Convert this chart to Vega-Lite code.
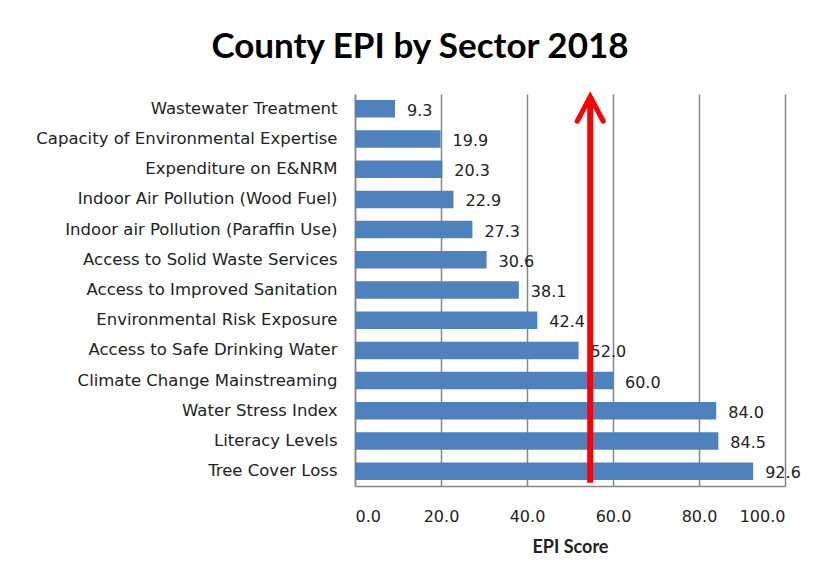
{
  "$schema": "https://vega.github.io/schema/vega-lite/v6.json",
  "autosize": "none",
  "width": 430,
  "height": 392,
  "padding": {"left": 355, "top": 94, "right": 36, "bottom": 99},
  "background": "white",
  "config": {
    "font": "DejaVu Sans",
    "view": {"stroke": null}
  },
  "title": {
    "text": "County EPI by Sector 2018",
    "fontSize": 35,
    "fontWeight": "bold",
    "font": "Lato",
    "color": "#000000",
    "anchor": "middle",
    "frame": "group",
    "dx": -150,
    "offset": 22
  },
  "layer": [
    {
      "data": {
        "values": [
          {"sector": "Wastewater Treatment", "score": 9.3},
          {"sector": "Capacity of Environmental Expertise", "score": 19.9},
          {"sector": "Expenditure on E&NRM", "score": 20.3},
          {"sector": "Indoor Air Pollution (Wood Fuel)", "score": 22.9},
          {"sector": "Indoor air Pollution (Paraffin Use)", "score": 27.3},
          {"sector": "Access to Solid Waste Services", "score": 30.6},
          {"sector": "Access to Improved Sanitation", "score": 38.1},
          {"sector": "Environmental Risk Exposure", "score": 42.4},
          {"sector": "Access to Safe Drinking Water", "score": 52.0},
          {"sector": "Climate Change Mainstreaming", "score": 60.0},
          {"sector": "Water Stress Index", "score": 84.0},
          {"sector": "Literacy Levels", "score": 84.5},
          {"sector": "Tree Cover Loss", "score": 92.6}
        ]
      },
      "encoding": {
        "y": {
          "field": "sector",
          "type": "nominal",
          "sort": null,
          "scale": {"paddingInner": 0.42, "paddingOuter": 0.2},
          "axis": {
            "title": null,
            "ticks": false,
            "labelFont": "DejaVu Sans",
            "labelFontSize": 16.5,
            "labelColor": "#222222",
            "labelPadding": 18,
            "domainColor": "#868686",
            "domainWidth": 1.5,
            "labelLimit": 400
          }
        },
        "x": {
          "field": "score",
          "type": "quantitative",
          "scale": {"domain": [0, 100], "nice": false},
          "axis": {
            "title": "EPI Score",
            "titleFont": "Lato",
            "titleFontSize": 18,
            "titleFontWeight": "bold",
            "titleColor": "#222222",
            "titlePadding": 14,
            "values": [0, 20, 40, 60, 80, 100],
            "format": ".1f",
            "labelFont": "DejaVu Sans",
            "labelFontSize": 16,
            "labelColor": "#222222",
            "labelPadding": 22,
            "ticks": false,
            "grid": true,
            "gridColor": "#868686",
            "gridWidth": 1.5,
            "domainColor": "#868686",
            "domainWidth": 1.5
          }
        }
      },
      "layer": [
        {"mark": {"type": "bar", "color": "#4F81BD"}},
        {
          "mark": {"type": "text", "align": "left", "baseline": "middle", "dx": 12, "dy": 2, "font": "DejaVu Sans", "fontSize": 16, "color": "#222222"},
          "encoding": {
            "text": {"field": "score", "type": "quantitative", "format": ".1f"}
          }
        }
      ]
    },
    {
      "data": {"values": [{"ax": 54.7, "yb": 0.008, "yt": 0.985, "yh": 0.962}]},
      "layer": [
        {
          "mark": {"type": "rule", "color": "#FF0000", "strokeWidth": 6},
          "encoding": {
            "x": {"field": "ax", "type": "quantitative"},
            "y": {"field": "yb", "type": "quantitative", "scale": {"domain": [0, 1]}, "axis": null},
            "y2": {"field": "yt"}
          }
        },
        {
          "mark": {"type": "point", "shape": "M-1,0.95L0,-0.95L1,0.95", "size": 676, "stroke": "#FF0000", "strokeWidth": 5, "filled": false, "opacity": 1, "strokeCap": "round", "strokeJoin": "miter"},
          "encoding": {
            "x": {"field": "ax", "type": "quantitative"},
            "y": {"field": "yh", "type": "quantitative", "scale": {"domain": [0, 1]}, "axis": null}
          }
        }
      ]
    }
  ],
  "resolve": {"scale": {"y": "independent"}}
}
